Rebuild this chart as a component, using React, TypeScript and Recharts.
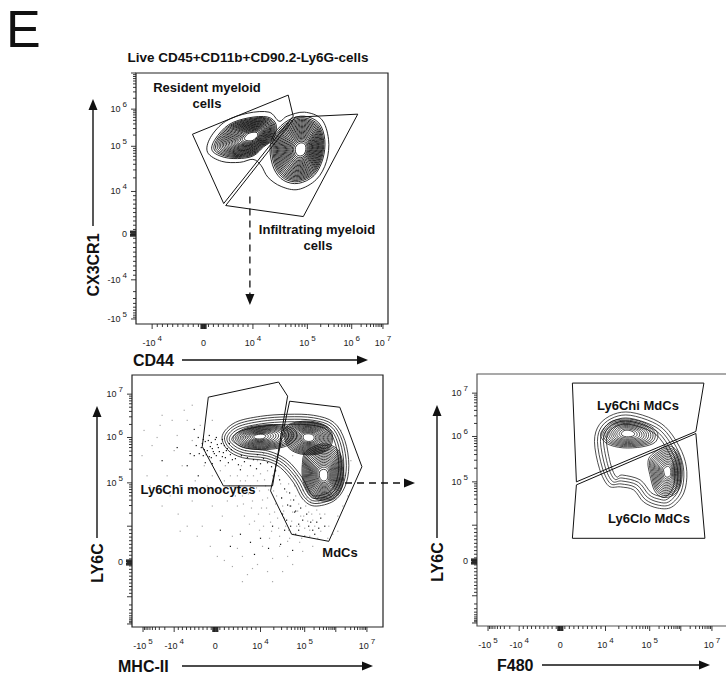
import React from 'react';
import { ScatterChart, Scatter, XAxis, YAxis, ReferenceArea } from 'recharts';

const FONT = '"Liberation Sans", Arial, Helvetica, sans-serif';
const DOMAIN = 250; // channel units across each plot

// ---- axis ticks (channel positions, decade exponents, labels) ----
const p1XTickPos = [16, 67, 116, 170, 214, 245];
const p1XTickExp = [-4, 0, 4, 5, 6, 7];
const p1XTickLabels = ['-10^4', '0', '10^4', '10^5', '10^6', '10^7'];
const p1YTickPos = [5, 44, 90, 132, 177, 214, 250];
const p1YTickExp = [-5, -4, 0, 4, 5, 6, 7];
const p1YTickLabels = ['-10^5', '-10^4', '0', '10^4', '10^5', '10^6', ''];

const p2XTickPos = [11, 42, 83, 128, 172, 203, 234];
const p2XTickExp = [-5, -4, 0, 4, 5, 6, 7];
const p2XTickLabels = ['-10^5', '-10^4', '0', '10^4', '10^5', '', '10^7'];
const p2YTickPos = [3, 30, 64, 100, 143, 188, 231];
const p2YTickExp = [-5, -4, 0, 4, 5, 6, 7];
const p2YTickLabels = ['', '', '0', '', '10^5', '10^6', '10^7'];

// ---- panel 1: CD44 vs CX3CR1 ----
const p1ResidentGate = [[56, 189], [151, 228], [156, 207], [87, 120], [56, 189]];
const p1InfiltratingGate = [[158, 206], [220, 209], [166, 107], [89, 118], [158, 206]];
const p1Arrow = [[113, 127], [113, 21]];

const p1JointOutline = [[71, 171], [74, 186], [89, 202], [111, 210], [132, 211], [142, 202], [150, 207], [167, 211], [184, 204], [191, 184], [189, 162], [179, 144], [161, 134], [144, 137], [131, 146], [124, 158], [116, 164], [103, 161], [85, 162]];
const p1JointInsets = [0];

const p1ResidentOutline = [[74, 172], [77, 184], [91, 199], [111, 206], [131, 207], [140, 199], [137, 184], [127, 176], [117, 167], [104, 164], [87, 165]];
const p1ResidentCenter = [116, 187];
const p1ResidentLevels = [0.96, 0.91, 0.87, 0.83, 0.79, 0.755, 0.72, 0.685, 0.65, 0.615, 0.58, 0.545, 0.51, 0.475, 0.44, 0.405, 0.37, 0.33, 0.29, 0.25, 0.2];

const p1InfiltratingOutline = [[132, 174], [137, 191], [151, 204], [167, 208], [182, 201], [188, 184], [186, 164], [177, 147], [161, 139], [146, 142], [136, 154]];
const p1InfiltratingCenter = [164, 174];
const p1InfiltratingLevels = [0.97, 0.92, 0.88, 0.845, 0.81, 0.775, 0.74, 0.705, 0.67, 0.635, 0.6, 0.565, 0.53, 0.495, 0.46, 0.425, 0.39, 0.355, 0.32, 0.28, 0.24, 0.19];

// ---- panel 2: MHC-II vs LY6C ----
const p2MonoGate = [[76, 228], [146, 243], [155, 229], [140, 140], [91, 140], [70, 179], [76, 228]];
const p2MdcGate = [[157, 224], [207, 218], [229, 159], [196, 85], [159, 92], [138, 135], [157, 224]];

// outer rings follow the banana outline, stepped inwards (px)
const p2BananaOutline = [[90, 190], [103, 203], [128, 209], [155, 211], [181, 210], [201, 203], [212, 185], [216, 160], [212, 139], [201, 125], [182, 120], [170, 127], [161, 143], [148, 158], [133, 165], [110, 168], [95, 176]];
const p2BananaInsets = [0, 2.5, 5, 7.5, 10];

const p2MonoOutline = [[98, 188], [109, 197], [125, 201], [148, 202], [165, 197], [168, 188], [158, 179], [140, 175], [120, 175], [105, 179]];
const p2MonoCenter = [126, 189];
const p2MonoLevels = [0.9, 0.83, 0.77, 0.71, 0.65, 0.59, 0.53, 0.47, 0.41, 0.35, 0.29, 0.23, 0.17];

const p2TopOutline = [[152, 200], [165, 205], [182, 205], [197, 199], [202, 188], [198, 176], [185, 170], [168, 170], [155, 176], [150, 188]];
const p2TopCenter = [176, 188];
const p2TopLevels = [0.92, 0.87, 0.82, 0.77, 0.72, 0.67, 0.62, 0.57, 0.52, 0.47, 0.42, 0.37, 0.32, 0.27, 0.21];

const p2LowOutline = [[172, 176], [190, 184], [206, 178], [212, 160], [211, 139], [203, 126], [190, 123], [177, 129], [169, 144], [168, 162]];
const p2LowCenter = [191, 150];
const p2LowLevels = [0.93, 0.885, 0.84, 0.795, 0.75, 0.705, 0.66, 0.615, 0.57, 0.525, 0.48, 0.435, 0.39, 0.345, 0.3, 0.25, 0.19];

const p2DarkDots = [
  [69, 178], [71, 170], [73, 184], [75, 175], [77, 169], [79, 183], [80, 177], [82, 172], [85, 181], [87, 174], [90, 169], [92, 180],
  [94, 175], [71, 186], [77, 190], [84, 188], [67, 172], [90, 186], [97, 182], [99, 176], [70, 182], [72, 176], [74, 171], [76, 185],
  [78, 179], [79, 168], [81, 174], [83, 186], [84, 170], [86, 178], [88, 165], [89, 182], [91, 173], [93, 168], [95, 177], [96, 163],
  [98, 171], [100, 166], [64, 180], [66, 188], [62, 170], [80, 162], [73, 163],
  [103, 167], [106, 161], [109, 170], [112, 164], [115, 168], [118, 160], [121, 166], [125, 171], [128, 162], [131, 167], [135, 163],
  [139, 159], [143, 155], [108, 156], [124, 157],
  [147, 146], [152, 137], [149, 128], [157, 133], [155, 121], [161, 126], [163, 115],
  [150, 112], [154, 106], [158, 100], [162, 114], [166, 96], [170, 106], [174, 112], [178, 104], [182, 92], [186, 98], [158, 120],
  [168, 118], [176, 100], [180, 96], [184, 104], [188, 108], [192, 100], [163, 92], [172, 90], [166, 102],
  [152, 96], [140, 100], [128, 88], [118, 84], [108, 92], [98, 80], [122, 72], [136, 78], [148, 82], [160, 76], [88, 96],
  [66, 150], [58, 172], [48, 140], [30, 165], [62, 196], [55, 160], [45, 178],
];
const p2LightDots = [
  [20, 180], [28, 200], [35, 150], [42, 175], [45, 190], [50, 160], [55, 205], [60, 185], [63, 145], [68, 200], [72, 160], [75, 140],
  [80, 150], [85, 135], [88, 155], [92, 145], [95, 125], [98, 150], [102, 138], [105, 120], [108, 145], [110, 130], [112, 110],
  [115, 150], [118, 140], [120, 125], [122, 105], [125, 145], [127, 135], [129, 118], [131, 100], [133, 140], [135, 128], [137, 112],
  [139, 95], [141, 135], [143, 122], [145, 108], [147, 90], [149, 128], [151, 115], [153, 100], [155, 85], [157, 120], [159, 105],
  [161, 92], [163, 130], [165, 115], [167, 100], [169, 88], [171, 110], [173, 120], [175, 105], [177, 90], [179, 112], [182, 100],
  [185, 88], [188, 95], [192, 112], [196, 100], [200, 92], [205, 110], [210, 120], [100, 90], [90, 110], [80, 120], [70, 100],
  [60, 125], [110, 70], [125, 62], [140, 68], [155, 70], [170, 75], [100, 60], [115, 52], [85, 70], [150, 55], [130, 80], [145, 160],
  [135, 155], [125, 165], [40, 205], [52, 215], [30, 120], [15, 150], [170, 160], [180, 140], [200, 140], [212, 150], [205, 175],
  [195, 180], [150, 180], [160, 170],
  [109, 160], [113, 145], [116, 132], [119, 118], [121, 150], [124, 138], [126, 112], [128, 152], [130, 126], [132, 146], [134, 118],
  [136, 136], [138, 104], [140, 150], [142, 114], [144, 130], [146, 98], [148, 142], [150, 120], [152, 108], [154, 134], [156, 96],
  [158, 126], [160, 114], [162, 140], [164, 100], [166, 122], [168, 110], [170, 136], [172, 98], [174, 128], [176, 114], [178, 124],
  [180, 106], [184, 116], [186, 124], [117, 102], [127, 96], [137, 88], [147, 80], [157, 88], [167, 84], [177, 96], [187, 112],
  [111, 122], [103, 130], [97, 140], [93, 160], [105, 150], [113, 175], [121, 178], [131, 172], [143, 168], [153, 160], [163, 150],
  [146, 150], [156, 142], [10, 170], [18, 140], [25, 188], [38, 130], [46, 112], [55, 100], [65, 90], [78, 80], [92, 66], [105, 78],
  [120, 58], [135, 55], [160, 62], [180, 80], [195, 88], [205, 95], [215, 130], [218, 165], [208, 195], [60, 220], [80, 205],
  [30, 210], [12, 195], [48, 95], [140, 45], [110, 45],
];

// ---- panel 3: F480 vs LY6C ----
const p3HiGate = [[95, 241], [226, 241], [218, 193], [99, 143], [95, 241]];
const p3LoGate = [[99, 140], [218, 191], [227, 87], [95, 87], [99, 140]];

const p3OuterOutline = [[153, 212], [176, 205], [191, 194], [204, 173], [209, 153], [206, 132], [194, 118], [180, 117], [166, 123], [156, 135], [143, 138], [131, 139], [122, 156], [117, 183], [122, 200], [136, 210]];
const p3OuterInsets = [0, 3, 6, 9, 12];

const p3HiOutline = [[124, 195], [134, 204], [152, 206], [170, 201], [181, 192], [179, 182], [165, 177], [145, 176], [129, 180], [122, 188]];
const p3HiCenter = [150, 191];
const p3HiLevels = [0.95, 0.87, 0.8, 0.73, 0.66, 0.59, 0.52, 0.45, 0.38, 0.3, 0.22];

const p3LoOutline = [[173, 171], [188, 180], [199, 176], [205, 160], [204, 140], [197, 129], [185, 126], [176, 133], [171, 150], [169, 163]];
const p3LoCenter = [190, 153];
const p3LoLevels = [0.94, 0.87, 0.81, 0.75, 0.69, 0.63, 0.57, 0.51, 0.45, 0.39, 0.33, 0.27, 0.2];

// ---------------------------------------------------------------

const ML = 45, MT = 10, MR = 10, XH = 34;

function buildTicks(pos: number[], exp: number[], labels: string[]) {
  const info = new Map<number, { major: boolean; label: string; dense?: boolean }>();
  const add = (t: number, v: { major: boolean; label: string; dense?: boolean }) => {
    const r = Math.round(t * 100) / 100;
    if (r < 0 || r > DOMAIN) return;
    if (!info.has(r) || v.major) info.set(r, v);
  };
  pos.forEach((p, i) => add(p, { major: true, label: labels[i] }));
  for (let i = 0; i < pos.length - 1; i++) {
    const a = pos[i], b = pos[i + 1], ea = exp[i], eb = exp[i + 1];
    if (ea > 0 && eb > 0) {
      for (let m = 2; m <= 9; m++) add(a + (b - a) * Math.log10(m), { major: false, label: '' });
    } else if (ea < 0 && eb < 0) {
      for (let m = 2; m <= 9; m++) add(b - (b - a) * Math.log10(m), { major: false, label: '' });
    } else {
      for (let m = 1; m <= 9; m++) add(a + ((b - a) * m) / 10, { major: false, label: '' });
    }
  }
  const z = pos[exp.indexOf(0)];
  [-2.4, -1.6, -0.8, 0.8, 1.6, 2.4].forEach((d) => add(z + d, { major: false, label: '', dense: true }));
  return { ticks: Array.from(info.keys()).sort((a, b) => a - b), info };
}

const TickText = ({ x, y, anchor, label }: any) => {
  const [base, sup] = label.split('^');
  return (
    <text x={x} y={y} textAnchor={anchor} fontSize={9} fontFamily={FONT} fill="#222">
      <tspan>{base}</tspan>
      {sup && (
        <tspan dx={2} dy={-5} fontSize={8}>
          {sup}
        </tspan>
      )}
    </text>
  );
};

const XTick = ({ x, y, payload, info }: any) => {
  const t = info.get(payload.value);
  if (!t) return <g />;
  const len = t.major ? 5 : t.dense ? 5 : 3;
  return (
    <g>
      <line x1={x} x2={x} y1={y} y2={y + len} stroke="#222" strokeWidth={t.dense ? 1.3 : 0.9} />
      {t.label && <TickText x={x} y={y + 22} anchor="middle" label={t.label} />}
    </g>
  );
};

const YTick = ({ x, y, payload, info }: any) => {
  const t = info.get(payload.value);
  if (!t) return <g />;
  const len = t.major ? 5 : t.dense ? 6 : 3;
  return (
    <g>
      <line x1={x} x2={x - len} y1={y} y2={y} stroke="#222" strokeWidth={t.dense ? 1.3 : 0.9} />
      {t.label && <TickText x={x - 9} y={y + 3} anchor="end" label={t.label} />}
    </g>
  );
};

function closedCurve(pts: number[][]) {
  const n = pts.length;
  let d = `M${pts[0][0]},${pts[0][1]}`;
  for (let i = 0; i < n; i++) {
    const p0 = pts[(i - 1 + n) % n], p1 = pts[i], p2 = pts[(i + 1) % n], p3 = pts[(i + 2) % n];
    const c1x = p1[0] + (p2[0] - p0[0]) / 6, c1y = p1[1] + (p2[1] - p0[1]) / 6;
    const c2x = p2[0] - (p3[0] - p1[0]) / 6, c2y = p2[1] - (p3[1] - p1[1]) / 6;
    d += `C${c1x},${c1y} ${c2x},${c2y} ${p2[0]},${p2[1]}`;
  }
  return d + 'Z';
}

function insetPts(pts: number[][], d: number) {
  const n = pts.length;
  let area = 0;
  for (let i = 0; i < n; i++) {
    const a = pts[i], b = pts[(i + 1) % n];
    area += a[0] * b[1] - b[0] * a[1];
  }
  const sgn = area > 0 ? 1 : -1;
  return pts.map((p, i) => {
    const prev = pts[(i - 1 + n) % n], next = pts[(i + 1) % n];
    const tx = next[0] - prev[0], ty = next[1] - prev[1];
    const L = Math.hypot(tx, ty) || 1;
    return [p[0] + (sgn * -ty * d) / L, p[1] + (sgn * tx * d) / L];
  });
}

const toPts = (arr: number[][]) => arr.map(([x, y]) => ({ x, y }));

// nested rings shrunk towards a core
function contourSeries(key: string, outline: number[][], center: number[], levels: number[], k: number[], sw = 0.8) {
  const data = levels.map((s) => ({ x: center[0], y: center[1], s }));
  const shape = (p: any) => {
    const s = p.payload.s;
    const pts = outline.map(([u, v]) => [p.cx + (u - center[0]) * s * k[0], p.cy - (v - center[1]) * s * k[1]]);
    return <path d={closedCurve(pts)} fill="none" stroke="#111" strokeWidth={sw} />;
  };
  return <Scatter key={key} data={data} shape={shape} isAnimationActive={false} />;
}

// rings stepped inwards from an outline by fixed distances
function insetSeries(key: string, outline: number[][], insets: number[], k: number[], sw = 0.8) {
  const a = outline[0];
  const data = insets.map((d) => ({ x: a[0], y: a[1], d }));
  const shape = (p: any) => {
    const pts = outline.map(([u, v]) => [p.cx + (u - a[0]) * k[0], p.cy - (v - a[1]) * k[1]]);
    return <path d={closedCurve(insetPts(pts, p.payload.d))} fill="none" stroke="#111" strokeWidth={sw} />;
  };
  return <Scatter key={key} data={data} shape={shape} isAnimationActive={false} />;
}

function gateSeries(key: string, poly: number[][]) {
  return (
    <Scatter
      key={key}
      data={toPts(poly)}
      line={{ stroke: '#111', strokeWidth: 1 }}
      lineType="joint"
      shape={() => <g />}
      isAnimationActive={false}
    />
  );
}

function dotSeries(key: string, pts: number[][], color: string, size: number) {
  return (
    <Scatter
      key={key}
      data={toPts(pts)}
      shape={(p: any) => <rect x={p.cx - size / 2} y={p.cy - size / 2} width={size} height={size} fill={color} />}
      isAnimationActive={false}
    />
  );
}

const Panel = ({ left, top, w, h, xt, yt, frame, children }: any) => (
  <div style={{ position: 'absolute', left: left - ML, top: top - MT }}>
    <ScatterChart width={ML + w + MR} height={MT + h + XH} margin={{ top: MT, right: MR, left: 0, bottom: 0 }}>
      <XAxis
        type="number"
        dataKey="x"
        domain={[0, DOMAIN]}
        ticks={xt.ticks}
        interval={0}
        tickSize={0}
        tickMargin={0}
        tickLine={false}
        axisLine={false}
        height={XH}
        tick={(p: any) => <XTick {...p} info={xt.info} />}
        allowDataOverflow
      />
      <YAxis
        type="number"
        dataKey="y"
        domain={[0, DOMAIN]}
        ticks={yt.ticks}
        interval={0}
        tickSize={0}
        tickMargin={0}
        tickLine={false}
        axisLine={false}
        width={ML}
        tick={(p: any) => <YTick {...p} info={yt.info} />}
        allowDataOverflow
      />
      <ReferenceArea x1={0} x2={DOMAIN} y1={0} y2={DOMAIN} fill="none" stroke={frame} strokeWidth={1.2} ifOverflow="visible" />
      {children}
    </ScatterChart>
  </div>
);

const ArrowUp = ({ x, y1, y2 }: any) => (
  <g>
    <line x1={x} x2={x} y1={y1} y2={y2 + 8} stroke="#111" strokeWidth={1.4} />
    <polygon points={`${x},${y2} ${x - 4.5},${y2 + 11} ${x + 4.5},${y2 + 11}`} fill="#111" />
  </g>
);
const ArrowRight = ({ y, x1, x2, dash }: any) => (
  <g>
    <line x1={x1} x2={x2 - 8} y1={y} y2={y} stroke="#111" strokeWidth={dash ? 1.3 : 1.4} strokeDasharray={dash ? '7 5' : undefined} />
    <polygon points={`${x2},${y} ${x2 - 11},${y - 4.5} ${x2 - 11},${y + 4.5}`} fill="#111" />
  </g>
);

export default function App() {
  const p1x = buildTicks(p1XTickPos, p1XTickExp, p1XTickLabels);
  const p1y = buildTicks(p1YTickPos, p1YTickExp, p1YTickLabels);
  const p2x = buildTicks(p2XTickPos, p2XTickExp, p2XTickLabels);
  const p2y = buildTicks(p2YTickPos, p2YTickExp, p2YTickLabels);

  const P1 = { left: 136, top: 73, w: 252, h: 251 };
  const P2 = { left: 132, top: 375, w: 251, h: 252 };
  const P3 = { left: 477, top: 374, w: 251, h: 252 };
  const k1 = [P1.w / DOMAIN, P1.h / DOMAIN];
  const k2 = [P2.w / DOMAIN, P2.h / DOMAIN];
  const k3 = [P3.w / DOMAIN, P3.h / DOMAIN];

  const bold = { fontFamily: FONT, fontWeight: 700, fontSize: 13, fill: '#111' } as any;
  const axisLab = { ...bold, fontSize: 16 };

  return (
    <div style={{ position: 'absolute', left: 0, top: 0, width: 726, height: 675, overflow: 'hidden', background: '#fff' }}>
      <Panel {...P1} xt={p1x} yt={p1y} frame="#222">
        {insetSeries('j', p1JointOutline, p1JointInsets, k1, 0.9)}
        {contourSeries('a', p1ResidentOutline, p1ResidentCenter, p1ResidentLevels, k1, 0.9)}
        {contourSeries('b', p1InfiltratingOutline, p1InfiltratingCenter, p1InfiltratingLevels, k1, 0.9)}
        {gateSeries('g1', p1ResidentGate)}
        {gateSeries('g2', p1InfiltratingGate)}
        <Scatter
          data={toPts(p1Arrow)}
          line={{ stroke: '#111', strokeWidth: 1.3, strokeDasharray: '7 5' }}
          lineType="joint"
          shape={(p: any) =>
            p.index === p1Arrow.length - 1 ? (
              <polygon points={`${p.cx},${p.cy + 2} ${p.cx - 4.5},${p.cy - 9} ${p.cx + 4.5},${p.cy - 9}`} fill="#111" />
            ) : (
              <g />
            )
          }
          isAnimationActive={false}
        />
      </Panel>

      <Panel {...P2} xt={p2x} yt={p2y} frame="#222">
        {dotSeries('lt', p2LightDots, '#a8a8a8', 1.2)}
        {dotSeries('dk', p2DarkDots, '#111', 1.2)}
        {insetSeries('ban', p2BananaOutline, p2BananaInsets, k2)}
        {contourSeries('mono', p2MonoOutline, p2MonoCenter, p2MonoLevels, k2)}
        {contourSeries('top', p2TopOutline, p2TopCenter, p2TopLevels, k2)}
        {contourSeries('low', p2LowOutline, p2LowCenter, p2LowLevels, k2)}
        {gateSeries('g3', p2MonoGate)}
        {gateSeries('g4', p2MdcGate)}
      </Panel>

      <Panel {...P3} xt={p2x} yt={p2y} frame="#555">
        {insetSeries('out', p3OuterOutline, p3OuterInsets, k3, 0.75)}
        {contourSeries('hi', p3HiOutline, p3HiCenter, p3HiLevels, k3, 0.75)}
        {contourSeries('lo', p3LoOutline, p3LoCenter, p3LoLevels, k3, 0.75)}
        {gateSeries('g5', p3HiGate)}
        {gateSeries('g6', p3LoGate)}
      </Panel>

      <svg width={726} height={675} style={{ position: 'absolute', left: 0, top: 0, pointerEvents: 'none' }}>
        <text x={6} y={47} fontFamily={FONT} fontSize={52} fill="#111">E</text>
        <text x={248} y={62} textAnchor="middle" {...bold} fontSize={13.5}>Live CD45+CD11b+CD90.2-Ly6G-cells</text>

        <text x={207} y={92} textAnchor="middle" {...bold}>Resident myeloid</text>
        <text x={207} y={108} textAnchor="middle" {...bold}>cells</text>
        <text x={317} y={234} textAnchor="middle" {...bold}>Infiltrating myeloid</text>
        <text x={318} y={250} textAnchor="middle" {...bold}>cells</text>

        <text x={198} y={494} textAnchor="middle" {...bold}>Ly6Chi monocytes</text>
        <text x={340} y={557} textAnchor="middle" {...bold}>MdCs</text>
        <text x={638} y={410} textAnchor="middle" {...bold}>Ly6Chi MdCs</text>
        <text x={649} y={523} textAnchor="middle" {...bold}>Ly6Clo MdCs</text>

        <text transform="translate(99,265) rotate(-90)" textAnchor="middle" {...axisLab}>CX3CR1</text>
        <ArrowUp x={93} y1={226} y2={99} />
        <text x={133} y={366} {...axisLab}>CD44</text>
        <ArrowRight y={360} x1={182} x2={368} />

        <text transform="translate(103,563) rotate(-90)" textAnchor="middle" {...axisLab}>LY6C</text>
        <ArrowUp x={97} y1={538} y2={406} />
        <text x={118} y={672} {...axisLab}>MHC-II</text>
        <ArrowRight y={666} x1={182} x2={373} />

        <text transform="translate(443,562) rotate(-90)" textAnchor="middle" {...axisLab}>LY6C</text>
        <ArrowUp x={437} y1={538} y2={405} />
        <text x={497} y={671} {...axisLab}>F480</text>
        <ArrowRight y={665} x1={542} x2={710} />

        <ArrowRight y={483} x1={345} x2={415} dash />
      </svg>
    </div>
  );
}
